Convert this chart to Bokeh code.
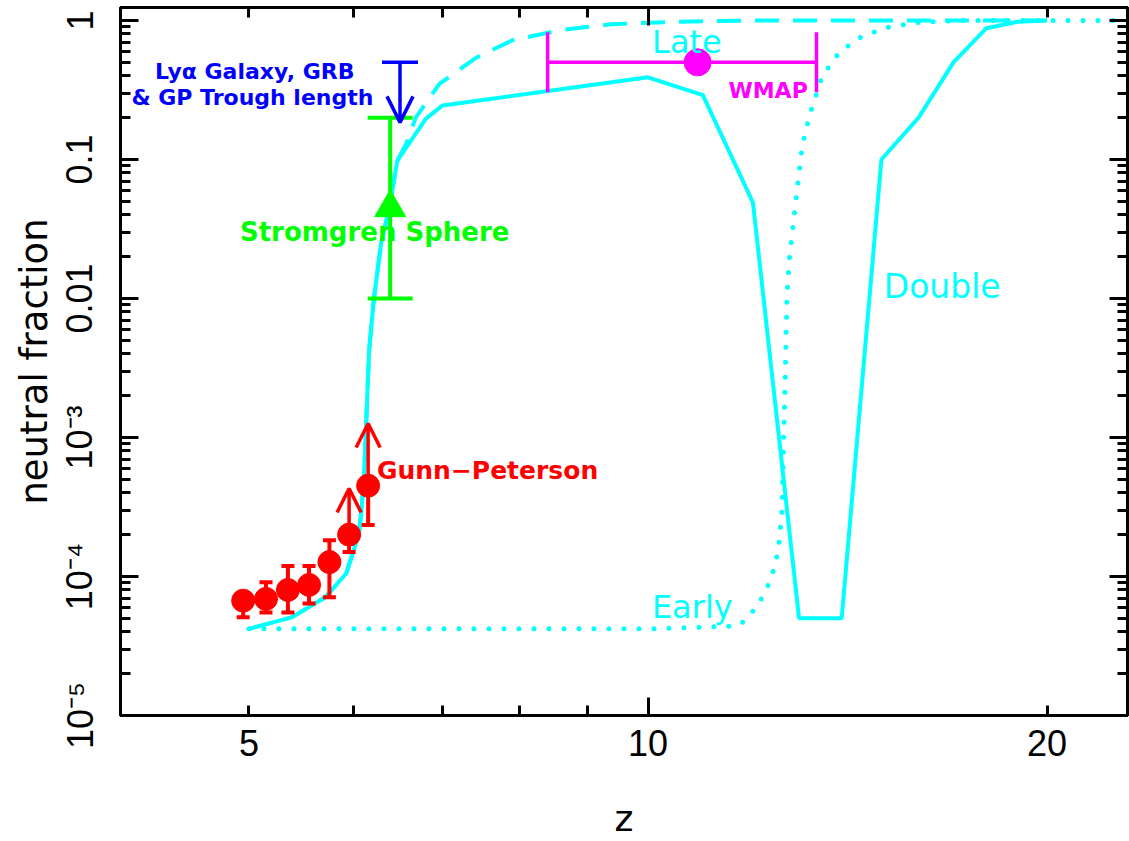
from bokeh.plotting import figure
from bokeh.models import (ColumnDataSource, LogAxis, FixedTicker, Label, Arrow,
                          OpenHead, CustomJSTickFormatter)
from bokeh.embed import file_html
from bokeh.resources import INLINE

# ---- Reionization models: neutral hydrogen fraction vs. redshift ----
z_late = [5.0, 5.39, 5.71, 5.92, 6.05, 6.08, 6.11, 6.13, 6.16, 6.21, 6.29, 6.38,
          6.47, 6.57, 6.68, 6.96, 7.42, 7.9, 8.57, 9.39, 10.5, 12.0, 20.0]
xhi_late = [4.2e-5, 5.1e-5, 7.1e-5, 1.05e-4, 2.0e-4, 3.0e-4, 6.1e-4, 1.3e-3, 4.2e-3,
            9.7e-3, 0.025, 0.045, 0.098, 0.13, 0.2, 0.35, 0.54, 0.72, 0.85, 0.94,
            0.98, 1.0, 1.0]

z_double = [5.0, 5.39, 5.71, 5.92, 6.05, 6.08, 6.11, 6.13, 6.16, 6.21, 6.29, 6.38,
            6.47, 6.8, 7.0, 10.0, 11.0, 12.0, 13.0, 14.0, 15.0, 16.0, 17.0, 18.0,
            19.0, 20.0]
xhi_double = [4.2e-5, 5.1e-5, 7.1e-5, 1.05e-4, 2.0e-4, 3.0e-4, 6.1e-4, 1.3e-3, 4.2e-3,
              9.7e-3, 0.025, 0.045, 0.098, 0.197, 0.245, 0.39, 0.29, 0.049, 5e-5,
              5e-5, 0.1, 0.2, 0.5, 0.88, 0.98, 1.0]

z_early = [5.0, 10.0, 11.68, 11.89, 12.06, 12.22, 12.35, 12.45, 12.52, 12.56, 12.62,
           12.65, 12.69, 12.73, 12.78, 12.93, 13.07, 13.23, 13.53, 13.94, 14.43,
           15.12, 16.0, 17.2, 23.0]
xhi_early = [4.2e-5, 4.2e-5, 4.4e-5, 5.0e-5, 6.0e-5, 7.3e-5, 9.1e-5, 1.15e-4, 1.45e-4,
             1.82e-4, 2.95e-4, 8.1e-4, 2.6e-3, 1.03e-2, 1.9e-2, 5.1e-2, 0.124, 0.203,
             0.395, 0.59, 0.75, 0.89, 0.97, 1.0, 1.0]

# ---- Gunn-Peterson measurements (last two are lower limits) ----
z_gp = [4.95, 5.15, 5.35, 5.55, 5.75, 5.95, 6.15]
xhi_gp = [6.7e-5, 6.9e-5, 8.0e-5, 8.7e-5, 1.27e-4, 2.0e-4, 4.5e-4]
gp_low = [5.1e-5, 5.5e-5, 5.5e-5, 6.4e-5, 7.1e-5, 1.5e-4, 2.35e-4]
gp_high = [7.6e-5, 9.1e-5, 1.19e-4, 1.19e-4, 1.82e-4, 4.3e-4, 1.26e-3]
gp_lower_limit = [False, False, False, False, False, True, True]

# ---- Stromgren sphere ----
z_strom = [6.39]
xhi_strom = [0.045]
strom_low = [0.01]
strom_high = [0.2]

# ---- Lya galaxy / GRB / GP trough upper limit ----
z_lya = [6.5]
xhi_lya = [0.5]
lya_arrow_to = [0.185]

# ---- WMAP reionization redshift ----
z_wmap = [10.9]
xhi_wmap = [0.5]
wmap_z_low = [8.4]
wmap_z_high = [13.4]

# ---- axes ----
x_tick_values = [5, 10, 20]
x_tick_labels = ["5", "10", "20"]
x_long_ticks = [10]
x_short_ticks = [5, 6, 7, 8, 9, 20]
y_tick_values = [1e-5, 1e-4, 1e-3, 1e-2, 1e-1, 1.0]
y_tick_labels = ["10\u207b\u2075", "10\u207b\u2074", "10\u207b\u00b3", "0.01", "0.1", "1"]
y_minor = [k * v for v in y_tick_values[:-1] for k in range(2, 10)]

CYAN = "#00FFFF"
RED = "#FF0000"
GREEN = "#00FF00"
BLUE = "#0000FF"
MAGENTA = "#FF00FF"
FONT = "DejaVu Sans"
TICK_FONT = "Liberation Sans"

p = figure(width=1129, height=841, x_axis_type="log", y_axis_type="log",
           x_range=(4.0, 23.0), y_range=(1e-5, 1.24),
           output_backend="svg", toolbar_location=None,
           min_border_left=120, min_border_right=2, min_border_top=7,
           min_border_bottom=126)
p.grid.visible = False
p.outline_line_color = "black"
p.outline_line_width = 3
p.background_fill_color = "white"
p.border_fill_color = "white"

blank = CustomJSTickFormatter(code="return ''")


def style_ticks(ax, major_len, minor_len):
    ax.axis_line_width = 3
    ax.major_tick_line_width = 3
    ax.minor_tick_line_width = 3
    ax.major_tick_in = major_len
    ax.major_tick_out = 0
    ax.minor_tick_in = minor_len
    ax.minor_tick_out = 0


def hide_labels(ax):
    ax.formatter = blank
    ax.major_label_text_font_size = "0px"
    ax.major_label_standoff = 0
    ax.axis_label = None
    ax.axis_label_standoff = 0


# bottom: tick marks
xb = p.xaxis[0]
xb.ticker = FixedTicker(ticks=x_long_ticks, minor_ticks=x_short_ticks)
style_ticks(xb, 18, 10)
hide_labels(xb)

# bottom: numbers and title
xl = LogAxis(ticker=FixedTicker(ticks=x_tick_values, minor_ticks=[]),
             axis_line_color=None, major_tick_line_color=None,
             minor_tick_line_color=None, major_tick_in=0, major_tick_out=0,
             minor_tick_in=0, minor_tick_out=0,
             major_label_overrides=dict(zip(x_tick_values, x_tick_labels)),
             major_label_standoff=14,
             major_label_text_font=TICK_FONT, major_label_text_font_size="36px",
             major_label_text_color="black",
             axis_label="z", axis_label_text_font=FONT,
             axis_label_text_font_size="36px", axis_label_text_font_style="normal",
             axis_label_text_color="black",
             axis_label_standoff=39)
p.add_layout(xl, "below")

# top
xt = LogAxis(ticker=FixedTicker(ticks=x_long_ticks, minor_ticks=x_short_ticks))
style_ticks(xt, 18, 10)
hide_labels(xt)
p.add_layout(xt, "above")

# left
yl = p.yaxis[0]
yl.ticker = FixedTicker(ticks=y_tick_values, minor_ticks=y_minor)
style_ticks(yl, 18, 10)
yl.major_label_overrides = dict(zip(y_tick_values, y_tick_labels))
yl.major_label_orientation = "vertical"
yl.major_label_text_font = TICK_FONT
yl.major_label_text_font_size = "36px"
yl.major_label_text_color = "black"
yl.major_label_standoff = 20
yl.axis_label = "neutral fraction"
yl.axis_label_text_font = FONT
yl.axis_label_text_font_size = "37px"
yl.axis_label_text_font_style = "normal"
yl.axis_label_text_color = "black"
yl.axis_label_standoff = 1

# right
yr = LogAxis(ticker=FixedTicker(ticks=y_tick_values, minor_ticks=y_minor))
style_ticks(yr, 18, 10)
hide_labels(yr)
p.add_layout(yr, "right")

# ---- model curves ----
p.line(z_early, xhi_early, line_color=CYAN, line_width=5, line_dash="0 15",
       line_cap="round")
p.line(z_late, xhi_late, line_color=CYAN, line_width=4, line_dash="24 14")
p.line(z_double, xhi_double, line_color=CYAN, line_width=4)

# ---- Gunn-Peterson points ----
gp_bar_top = [xhi if lim else hi for xhi, hi, lim in zip(xhi_gp, gp_high, gp_lower_limit)]
p.segment(x0=z_gp, y0=gp_low, x1=z_gp, y1=gp_bar_top, line_color=RED, line_width=4)
p.scatter(z_gp, gp_low, marker="dash", size=13, line_color=RED, line_width=4)
z_gp_cap = [z for z, lim in zip(z_gp, gp_lower_limit) if not lim]
hi_gp_cap = [h for h, lim in zip(gp_high, gp_lower_limit) if not lim]
p.scatter(z_gp_cap, hi_gp_cap, marker="dash", size=13, line_color=RED, line_width=4)
p.scatter(z_gp, xhi_gp, marker="circle", size=23, fill_color=RED, line_color=RED)

gp_lim = ColumnDataSource(dict(
    x=[z for z, lim in zip(z_gp, gp_lower_limit) if lim],
    y0=[v for v, lim in zip(xhi_gp, gp_lower_limit) if lim],
    y1=[h for h, lim in zip(gp_high, gp_lower_limit) if lim]))
p.add_layout(Arrow(source=gp_lim, x_start="x", y_start="y0", x_end="x", y_end="y1",
                   line_color=RED, line_width=3.5,
                   end=OpenHead(size=24, line_color=RED, line_width=3.5)))

# ---- Stromgren sphere ----
p.segment(x0=z_strom, y0=strom_low, x1=z_strom, y1=strom_high, line_color=GREEN,
          line_width=4)
p.scatter(z_strom, strom_low, marker="dash", size=45, line_color=GREEN, line_width=4)
p.scatter(z_strom, strom_high, marker="dash", size=45, line_color=GREEN, line_width=4)
p.scatter(z_strom, xhi_strom, marker="triangle", size=31, fill_color=GREEN,
          line_color=GREEN)

# ---- Lya / GRB upper limit ----
p.scatter(z_lya, xhi_lya, marker="dash", size=36, line_color=BLUE, line_width=3.5)
lya_src = ColumnDataSource(dict(x=z_lya, y0=xhi_lya, y1=lya_arrow_to))
p.add_layout(Arrow(source=lya_src, x_start="x", y_start="y0", x_end="x", y_end="y1",
                   line_color=BLUE, line_width=3.5,
                   end=OpenHead(size=26, line_color=BLUE, line_width=3.5)))

# ---- WMAP ----
p.segment(x0=wmap_z_low, y0=xhi_wmap, x1=wmap_z_high, y1=xhi_wmap,
          line_color=MAGENTA, line_width=3.5)
p.scatter(wmap_z_low + wmap_z_high, xhi_wmap * 2, marker="dash", angle=1.5708,
          size=60, line_color=MAGENTA, line_width=3.5)
p.scatter(z_wmap, xhi_wmap, marker="circle", size=27, fill_color=MAGENTA,
          line_color=MAGENTA)

# ---- annotations ----
def note(x, y, text, color, size, bold=False, align="center"):
    p.add_layout(Label(x=x, y=y, text=text, text_color=color, text_font=FONT,
                       text_font_size=size,
                       text_font_style="bold" if bold else "normal",
                       text_align=align, text_baseline="middle"))


note(10.7, 0.70, "Late", CYAN, "32px")
note(10.8, 6.0e-5, "Early", CYAN, "32px")
note(16.67, 0.0121, "Double", CYAN, "33px")
note(6.245, 5.8e-4, "Gunn\u2212Peterson", RED, "25px", bold=True, align="left")
note(6.22, 0.030, "Stromgren Sphere", GREEN, "26px", bold=True)
note(5.05, 0.43, "Ly\u03b1 Galaxy, GRB", BLUE, "22px", bold=True)
note(5.03, 0.279, "& GP Trough length", BLUE, "22px", bold=True)
note(12.32, 0.313, "WMAP", MAGENTA, "22px", bold=True)

open("out.html", "w").write(file_html(p, INLINE))
